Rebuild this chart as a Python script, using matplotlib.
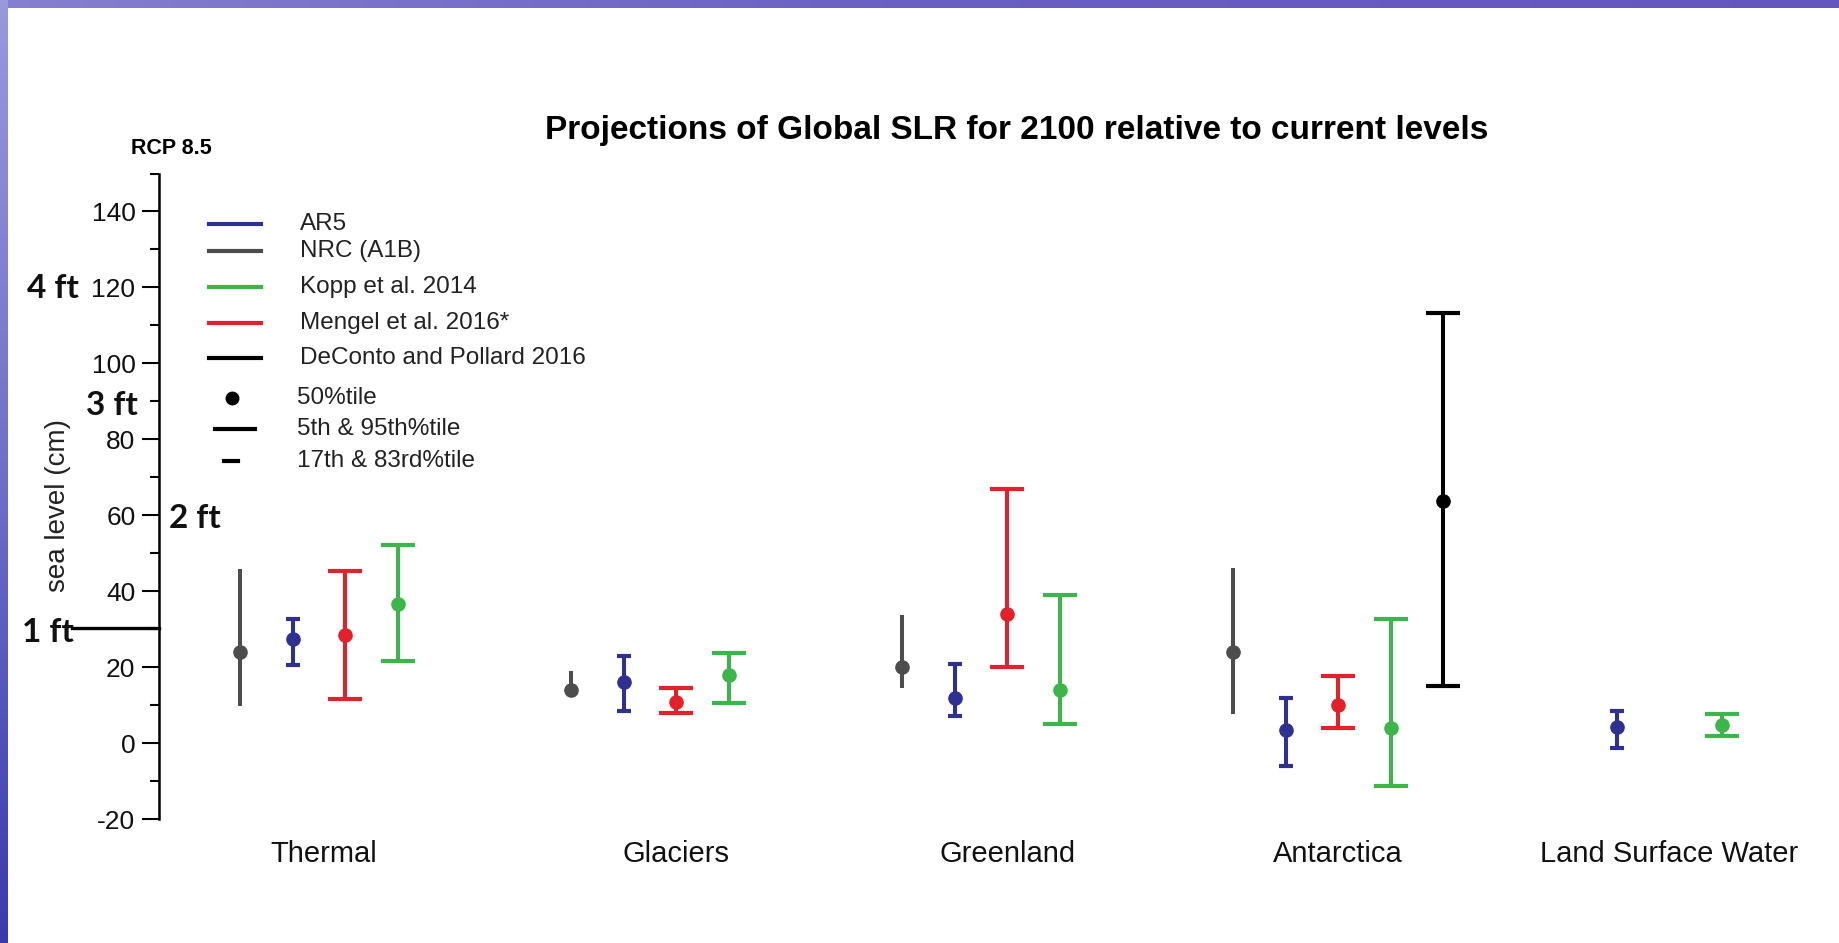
import numpy as np
import matplotlib.pyplot as plt
from matplotlib.lines import Line2D
from matplotlib.colors import LinearSegmentedColormap
from matplotlib.transforms import blended_transform_factory, ScaledTranslation

W, H = 1839, 943

# ---- data (sea level contribution by 2100, cm) ----
categories = ["Thermal", "Glaciers", "Greenland", "Antarctica", "Land Surface Water"]

# NRC (A1B): median, 5th, 95th
nrc_med = [24.0, 14.1, 20.1, 24.1, np.nan]
nrc_lo = [9.9, 13.0, 14.6, 7.8, np.nan]
nrc_hi = [46.0, 19.0, 33.7, 46.2, np.nan]

# AR5: median, 17th, 83rd
ar5_med = [27.4, 16.1, 11.9, 3.6, 4.2]
ar5_lo = [20.7, 8.6, 7.1, -5.9, -1.3]
ar5_hi = [32.8, 22.9, 20.8, 11.8, 8.6]

# Mengel et al. 2016
mengel_med = [28.6, 11.0, 34.1, 10.1, np.nan]
mengel_lo = [11.7, 8.1, 20.2, 4.1, np.nan]
mengel_hi = [45.3, 14.6, 66.9, 17.7, np.nan]

# Kopp et al. 2014
kopp_med = [36.6, 18.1, 14.1, 4.1, 4.9]
kopp_lo = [21.8, 10.7, 5.1, -11.3, 1.8]
kopp_hi = [52.2, 23.9, 39.0, 32.8, 7.7]

# DeConto and Pollard 2016 (Antarctica only)
deconto_med = [np.nan, np.nan, np.nan, 63.9, np.nan]
deconto_lo = [np.nan, np.nan, np.nan, 15.0, np.nan]
deconto_hi = [np.nan, np.nan, np.nan, 113.3, np.nan]

feet_cm = 30.48

BLUE = "#2e3192"
GRAY = "#4d4d4d"
GREEN = "#3cb54a"
RED = "#e2212b"
BLACK = "#000000"

plt.rcParams["font.family"] = ["Liberation Sans", "DejaVu Sans"]
plt.rcParams["axes.unicode_minus"] = False


def fx(px):
    return px / W


def fy(py):
    return 1 - py / H


fig = plt.figure(figsize=(W / 100, H / 100), dpi=100)
fig.patch.set_facecolor("white")

# slide frame: purple band on top and left
top = fig.add_axes([0, fy(8), 1, 8 / H])
top.imshow(np.linspace(0, 1, 256)[None, :], aspect="auto",
           cmap=LinearSegmentedColormap.from_list("t", ["#8580cf", "#6a5fc3", "#6456bf"]))
top.axis("off")
left = fig.add_axes([0, 0, 8 / W, 1])
left.imshow(np.linspace(0, 1, 256)[:, None], aspect="auto",
            cmap=LinearSegmentedColormap.from_list("l", ["#9a98dc", "#6e70c8", "#3a3aaa"]))
left.axis("off")

# ---- main axes ----
ax = fig.add_axes([fx(159), fy(819.3), fx(1834) - fx(159), (819.3 - 173.5) / H])
slot_step = 0.1586
offsets = (np.arange(5) - 2) * slot_step


def draw(med, lo, hi, slot, color, cap):
    med, lo, hi = (np.asarray(v, dtype=float) for v in (med, lo, hi))
    ok = ~np.isnan(med)
    x = np.arange(len(med))[ok] + offsets[slot]
    m = med[ok]
    ax.errorbar(x, m, yerr=[m - lo[ok], hi[ok] - m], fmt="o", color=color,
                ms=9.5, elinewidth=2.9, capsize=cap, capthick=3, zorder=3)


draw(nrc_med, nrc_lo, nrc_hi, 0, GRAY, 0)
draw(ar5_med, ar5_lo, ar5_hi, 1, BLUE, 5)
draw(mengel_med, mengel_lo, mengel_hi, 2, RED, 12)
draw(kopp_med, kopp_lo, kopp_hi, 3, GREEN, 12)
draw(deconto_med, deconto_lo, deconto_hi, 4, BLACK, 12)

ax.set_xlim(-0.562, 4.498)
ax.set_ylim(-20, 150)
ax.set_yticks(range(-20, 141, 20))
ax.set_yticks(range(-10, 151, 20), minor=True)
ax.set_xticks(range(len(categories)))
ax.set_xticklabels(categories, fontsize=21, color="#111111")
ax.tick_params(axis="x", length=0, pad=15)
ax.tick_params(axis="y", which="major", length=12, width=1.5, labelsize=19, pad=5,
               labelcolor="#111111")
ax.tick_params(axis="y", which="minor", length=6.5, width=1.5)
for s in ("top", "right", "bottom"):
    ax.spines[s].set_visible(False)
ax.spines["left"].set_linewidth(1.8)
ax.set_facecolor("none")

# the first category label sits a little left of its group
first = ax.get_xticklabels()[0]
first.set_transform(first.get_transform() + ScaledTranslation(-0.21, 0, fig.dpi_scale_trans))

# 1 ft marker line reaching the axis
bt = blended_transform_factory(fig.transFigure, ax.transData)
ax.add_line(Line2D([fx(72), fx(159)], [feet_cm, feet_cm], transform=bt,
                   color="black", lw=2.4, clip_on=False))

# feet labels
ft_font = dict(fontsize=24, fontweight="bold", family=["Lato", "DejaVu Sans"],
               ha="center", va="center", color="#111111")
fig.text(fx(53), fy(288), "4 ft", **ft_font)
fig.text(fx(112), fy(405), "3 ft", **ft_font)
fig.text(fx(195), fy(518), "2 ft", **ft_font)
fig.text(fx(48), fy(632), "1 ft", **ft_font)

# titles and axis label
fig.text(fx(1017), fy(131), "Projections of Global SLR for 2100 relative to current levels",
         ha="center", va="center", fontsize=24, fontweight="bold")
fig.text(fx(171), fy(148), "RCP 8.5", ha="center", va="center", fontsize=15.5,
         fontweight="bold")
fig.text(fx(58), fy(505), "sea level (cm)", rotation=90, ha="center", va="center",
         fontsize=20, color="#222222")

# ---- legend ----
leg_text = dict(ha="left", va="center", fontsize=17.5, color="#222222")
leg_lines = [("AR5", BLUE, 224), ("NRC (A1B)", GRAY, 251), ("Kopp et al. 2014", GREEN, 287),
             ("Mengel et al. 2016*", RED, 323), ("DeConto and Pollard 2016", BLACK, 358)]
for label, color, y in leg_lines:
    fig.add_artist(Line2D([fx(209), fx(261)], [fy(y), fy(y)], transform=fig.transFigure,
                          color=color, lw=3))
    fig.text(fx(300), fy(y), label, **leg_text)

fig.add_artist(Line2D([fx(232)], [fy(398)], transform=fig.transFigure, marker="o",
                      ms=9, color="black", lw=0))
fig.text(fx(297), fy(398), "50%tile", **leg_text)
fig.add_artist(Line2D([fx(215), fx(255)], [fy(429), fy(429)], transform=fig.transFigure,
                      color="black", lw=3))
fig.text(fx(297), fy(429), "5th & 95th%tile", **leg_text)
fig.add_artist(Line2D([fx(224), fx(238)], [fy(461), fy(461)], transform=fig.transFigure,
                      color="black", lw=3))
fig.text(fx(297), fy(461), "17th & 83rd%tile", **leg_text)

fig.savefig("out.png", dpi=100, facecolor=fig.get_facecolor())
